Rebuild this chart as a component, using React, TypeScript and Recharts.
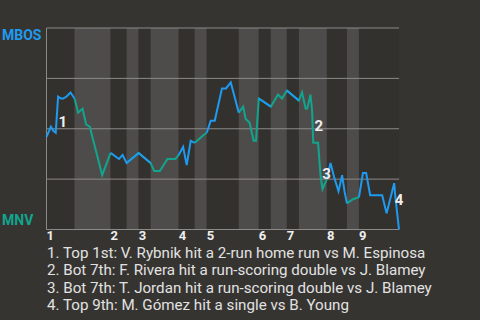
import React from 'react';
import {
  ComposedChart,
  Line,
  Scatter,
  XAxis,
  YAxis,
  ReferenceArea,
  ReferenceLine
} from 'recharts';

// game progress (plate appearance scale) and MBOS win probability in %
const progress = [
  0, 1.1, 1.7, 2.3, 2.9, 3.6, 4.2, 5, 6, 7,
  7.9, 9, 9.9, 10.8, 13.9, 16, 18.1, 19, 20, 23,
  26, 26.9, 28.3, 30.2, 32.2, 33, 34.1, 35, 36, 37,
  39.3, 40, 41, 42, 43.8, 44.8, 46, 48, 49.1, 49.7,
  50.7, 51.7, 52.3, 53, 56, 57.8, 58.8, 60, 63, 63.8,
  64.7, 65.1, 65.9, 66.3, 66.6, 67.8, 68.4, 68.9, 70, 70.9,
  71.8, 72.9, 73.8, 74.4, 75, 76.5, 78, 79, 79.8, 80.8,
  83.8, 84.9, 86.8, 87.1, 88
];
const mbosWinPct = [
  46, 51, 49, 48, 66, 65, 65, 66, 68, 65,
  58, 60, 52, 51, 27, 38, 35, 37, 33, 38,
  33, 29, 29, 35, 35, 37, 41, 32, 44, 43,
  47, 48, 54, 54, 70, 70, 73, 58, 61, 55,
  53, 44, 44, 65, 61, 67, 65, 69, 64, 68,
  60, 60, 67, 59, 43, 43, 27, 20, 25, 33,
  26, 19, 27, 19, 13, 15, 16, 28, 28, 17,
  17, 8, 23, 16, 0
];

// half-inning boundaries: top 1st, bot 1st, top 2nd, ... top 9th, end
const halfStarts = [0, 7, 16, 20, 23, 26, 33, 37, 40, 48, 53, 56, 60, 63, 70, 75, 78, 88];
const inningStarts = [0, 16, 23, 33, 40, 53, 60, 70, 78];

// numbered notes on the line
const noteIds = ['1', '2', '3', '4'];
const noteT = [4.1, 68, 69.9, 88];
const noteP = [53.7, 51.7, 27.9, 14.9];
const noteTexts = [
  '1. Top 1st: V. Rybnik hit a 2-run home run vs M. Espinosa',
  '2. Bot 7th: F. Rivera hit a run-scoring double vs J. Blamey',
  '3. Bot 7th: T. Jordan hit a run-scoring double vs J. Blamey',
  '4. Top 9th: M. Gómez hit a single vs B. Young'
];

const BLUE = '#1e9bf0';
const TEAL = '#12a58e';
const BG = '#363431';
const GRID = '#8c8a88';

const inTop = (t: number) => {
  for (let h = 0; h < halfStarts.length - 1; h += 2) {
    if (t >= halfStarts[h] && t <= halfStarts[h + 1]) return true;
  }
  return false;
};
const inBottom = (t: number) => {
  for (let h = 1; h < halfStarts.length - 1; h += 2) {
    if (t >= halfStarts[h] && t <= halfStarts[h + 1]) return true;
  }
  return false;
};

const data = progress.map((t, i) => ({
  t,
  top: inTop(t) ? mbosWinPct[i] : null,
  bot: inBottom(t) ? mbosWinPct[i] : null
}));

const notes = noteIds.map((n, i) => ({ t: noteT[i], p: noteP[i], n }));

const NoteShape = (props: any) => (
  <text
    x={props.cx}
    y={props.cy}
    dy={5.5}
    textAnchor="middle"
    fill="#eeeeee"
    fontSize={15}
    fontWeight={700}
    fontFamily="Roboto"
  >
    {props.payload.n}
  </text>
);

const InningTick = (props: any) => {
  const idx = inningStarts.indexOf(props.payload.value);
  return (
    <text x={props.x} y={props.y} dy={10} textAnchor="start" fill="#eeeeee" fontSize={13} fontWeight={700} fontFamily="Roboto">
      {idx + 1}
    </text>
  );
};

export default function App() {
  return (
    <div style={{ position: 'absolute', left: 0, top: 0, width: 480, height: 320, background: BG, fontFamily: 'Roboto', overflow: 'hidden' }}>
      <ComposedChart width={480} height={320} data={data} margin={{ top: 28, right: 81, left: 46.5, bottom: 70.5 }}>
        <XAxis
          dataKey="t"
          type="number"
          domain={[0, 88]}
          ticks={inningStarts}
          tick={<InningTick />}
          axisLine={false}
          tickLine={false}
          tickSize={0}
          tickMargin={0}
          height={20}
        />
        <YAxis hide domain={[0, 100]} type="number" />
        {halfStarts.slice(0, -1).map((s, h) => (
          <ReferenceArea
            key={'band' + h}
            x1={s}
            x2={halfStarts[h + 1]}
            y1={0}
            y2={100}
            fill={h % 2 === 0 ? '#33312e' : '#4e4c4a'}
            fillOpacity={1}
            stroke="none"
          />
        ))}
        {[0, 25, 50, 75, 100].map((v) => (
          <ReferenceLine key={'g' + v} y={v} stroke={GRID} strokeWidth={1} />
        ))}
        <ReferenceLine x={0} stroke={GRID} strokeWidth={1} />
        <Line dataKey="bot" type="linear" stroke={TEAL} strokeWidth={2} dot={false} connectNulls={false} isAnimationActive={false} />
        <Line dataKey="top" type="linear" stroke={BLUE} strokeWidth={2} dot={false} connectNulls={false} isAnimationActive={false} />
        <Scatter data={notes} dataKey="p" shape={<NoteShape />} isAnimationActive={false} />
      </ComposedChart>
      <div style={{ position: 'absolute', left: 2, top: 27, color: BLUE, fontWeight: 700, fontSize: 14 }}>MBOS</div>
      <div style={{ position: 'absolute', left: 2, top: 212, color: TEAL, fontWeight: 700, fontSize: 14 }}>MNV</div>
      <div style={{ position: 'absolute', left: 47, top: 245, color: '#e2e2e2', fontSize: 15.15, lineHeight: '17.33px' }}>
        {noteTexts.map((s) => (
          <div key={s} style={{ whiteSpace: 'nowrap' }}>{s}</div>
        ))}
      </div>
    </div>
  );
}
